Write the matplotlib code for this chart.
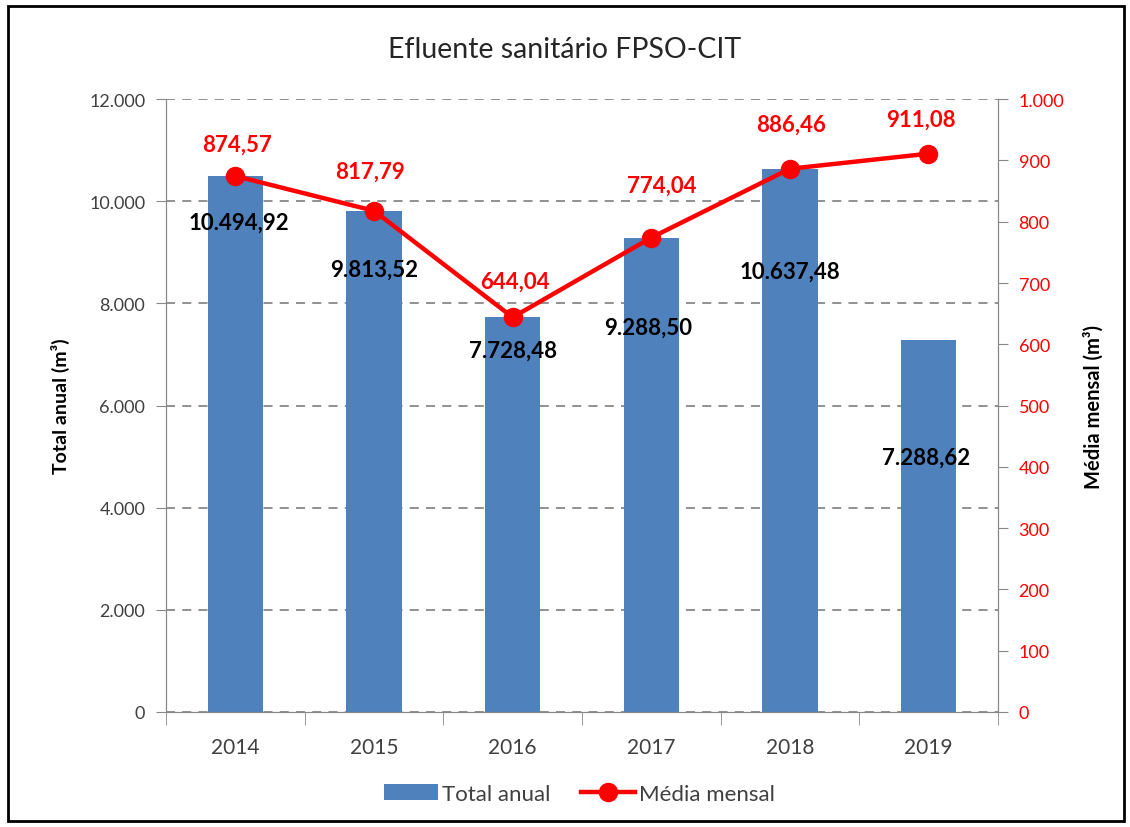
import matplotlib.pyplot as plt
from matplotlib.patches import Rectangle
from matplotlib.ticker import FuncFormatter, MultipleLocator

plt.rcParams['font.family'] = ['Lato', 'DejaVu Sans']

# Dados
anos = ["2014", "2015", "2016", "2017", "2018", "2019"]
total_anual = [10494.92, 9813.52, 7728.48, 9288.50, 10637.48, 7288.62]
media_mensal = [874.57, 817.79, 644.04, 774.04, 886.46, 911.08]

# deslocamento dos rótulos (pixels)
desl_barras = [(3, -46), (0, -58), (0, -33), (-3, -90), (0, -102), (-2, -117)]
desl_linha = [(2, 32), (-4, 40), (2, 36), (10, 52), (1, 45), (-8, 34)]

azul = "#4F81BD"
vermelho = "#FF0000"
cinza = "#404040"


def br(v, casas=0):
    s = f"{v:,.{casas}f}"
    return s.replace(",", "X").replace(".", ",").replace("X", ".")


fig = plt.figure(figsize=(11.3, 8.28), dpi=100)
ax = fig.add_axes([0.147, 0.139, 0.736, 0.740])
ax2 = ax.twinx()

x = list(range(len(anos)))
barras = ax.bar(x, total_anual, width=0.4, color=azul, zorder=2, label="Total anual")
linha, = ax2.plot(x, media_mensal, color=vermelho, lw=3.2, marker="o", ms=13,
                  zorder=3, label="Média mensal")

ax.set_xlim(-0.5, 5.5)
ax.set_ylim(0, 12000)
ax2.set_ylim(0, 1000)
ax.yaxis.set_major_locator(MultipleLocator(2000))
ax2.yaxis.set_major_locator(MultipleLocator(100))
ax.yaxis.set_major_formatter(FuncFormatter(lambda v, p: br(v)))
ax2.yaxis.set_major_formatter(FuncFormatter(lambda v, p: br(v)))

ax.grid(axis="y", ls=(0, (5, 4)), color="#888888", lw=1.3, zorder=0)
ax.set_xticks(x)
ax.set_xticklabels(anos)
ax.set_xticks([i - 0.5 for i in range(len(anos) + 1)], minor=True)
ax.tick_params(axis="x", which="major", length=0, pad=18, labelsize=15, labelcolor=cinza)
ax.tick_params(axis="x", which="minor", length=9, color="#888888", direction="out")
ax.tick_params(axis="y", length=7, color="#888888", labelsize=13, labelcolor=cinza, pad=8)
ax2.tick_params(axis="y", length=7, color="#888888", labelsize=13, labelcolor=vermelho, pad=8)

for a in (ax, ax2):
    a.spines["top"].set_visible(False)
    for s in ("left", "right", "bottom"):
        a.spines[s].set_color("#888888")

ax.set_zorder(ax2.get_zorder() - 1)
ax2.patch.set_visible(False)

ax.set_ylabel("Total anual (m³)", fontsize=14, fontweight="bold", labelpad=14)
ax2.set_ylabel("Média mensal (m³)", fontsize=14.5, fontweight="bold", labelpad=14)

fig.text(0.5, 0.940, "Efluente sanitário FPSO-CIT", ha="center", va="center",
         fontsize=20.5, color="#262626")

# rótulos das barras
for xi, v, d in zip(x, total_anual, desl_barras):
    ax.annotate(br(v, 2), (xi, v), xytext=d, textcoords="offset pixels",
                ha="center", va="center", fontsize=16, fontweight="bold",
                color="black", zorder=5)

# rótulos da linha
for xi, v, d in zip(x, media_mensal, desl_linha):
    ax2.annotate(br(v, 2), (xi, v), xytext=d, textcoords="offset pixels",
                 ha="center", va="center", fontsize=16, fontweight="bold",
                 color=vermelho, zorder=5)

fig.legend(handles=[barras, linha], loc="center", bbox_to_anchor=(0.513, 0.040),
           ncol=2, frameon=False, fontsize=16, handlelength=2.4,
           columnspacing=1.4, handletextpad=0.2, labelcolor=cinza)

# moldura externa
fig.patches.append(Rectangle((0.007, 0.007), 0.988, 0.984, transform=fig.transFigure,
                             fill=False, ec="black", lw=2))

fig.savefig("out.png", dpi=100)
